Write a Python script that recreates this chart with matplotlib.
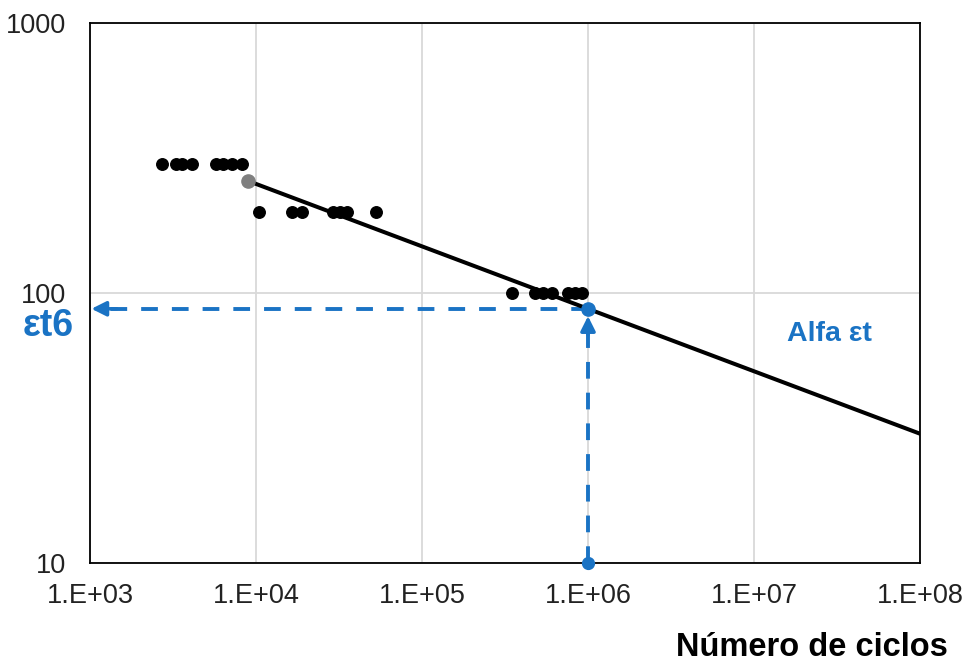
import matplotlib
matplotlib.use("Agg")
import matplotlib.pyplot as plt
from matplotlib.ticker import FixedLocator, FixedFormatter, NullLocator

plt.rcParams['font.family'] = ['Liberation Sans', 'DejaVu Sans']

# test points (ciclos, deformacion)
ciclos_300 = [2710, 3300, 3570, 4100, 5740, 6350, 7150, 8200]
def_300 = [300] * len(ciclos_300)
ciclos_200 = [10470, 16400, 18840, 29000, 32100, 35500, 52800]
def_200 = [200] * len(ciclos_200)
ciclos_100 = [347000, 480000, 538000, 604000, 760000, 835000, 916000]
def_100 = [100] * len(ciclos_100)

# fatigue line
linea_x = [8900, 1e8]
linea_y = [260, 30.1]

n_ref = 1e6
eps_t6 = 87.3

x_ticks = [1e3, 1e4, 1e5, 1e6, 1e7, 1e8]
x_labels = ['1.E+03', '1.E+04', '1.E+05', '1.E+06', '1.E+07', '1.E+08']
y_ticks = [10, 100, 1000]
y_labels = ['10', '100', '1000']

blue = '#1a73c4'

fig = plt.figure(figsize=(9.66, 6.63), dpi=100)
ax = fig.add_axes([90 / 966, 1 - 563 / 663, 830 / 966, (563 - 22.7) / 663])
ax.set_xscale('log')
ax.set_yscale('log')
ax.set_xlim(1e3, 1e8)
ax.set_ylim(10, 1000)

ax.xaxis.set_major_locator(FixedLocator(x_ticks))
ax.xaxis.set_major_formatter(FixedFormatter(x_labels))
ax.yaxis.set_major_locator(FixedLocator(y_ticks))
ax.yaxis.set_major_formatter(FixedFormatter(y_labels))
ax.xaxis.set_minor_locator(NullLocator())
ax.yaxis.set_minor_locator(NullLocator())
ax.tick_params(axis='x', length=0, pad=14.5, labelsize=19.5, colors='#222222')
ax.tick_params(axis='y', length=0, pad=17, labelsize=19.5, colors='#222222')
ax.grid(True, color='#d9d9d9', lw=1.3)
ax.set_axisbelow(True)
for s in ax.spines.values():
    s.set_linewidth(1.3)
    s.set_color('black')

# data points
ax.plot(ciclos_300, def_300, 'o', color='black', ms=8.3, zorder=3)
ax.plot(ciclos_200, def_200, 'o', color='black', ms=8.3, zorder=3)
ax.plot(ciclos_100, def_100, 'o', color='black', ms=8.3, zorder=3)

# dashed guide lines
dash = (0, (4.3, 3.6))
ax.plot([n_ref, 1.3e3], [eps_t6, eps_t6], color=blue, lw=2.8, ls=dash,
        zorder=2, clip_on=False)
ax.plot([n_ref, n_ref], [10, 74], color=blue, lw=2.8, ls=dash, zorder=2,
        clip_on=False)
ax.annotate('', xy=(1.02e3, eps_t6), xytext=(1.45e3, eps_t6),
            arrowprops=dict(arrowstyle='-|>', color=blue, lw=2.5,
                            mutation_scale=22, shrinkA=0, shrinkB=0),
            zorder=4, annotation_clip=False)
ax.annotate('', xy=(n_ref, 82), xytext=(n_ref, 70),
            arrowprops=dict(arrowstyle='-|>', color=blue, lw=2.5,
                            mutation_scale=22, shrinkA=0, shrinkB=0),
            zorder=4)
ax.plot([n_ref], [10], 'o', color=blue, ms=8.5, zorder=5, clip_on=False)

# fatigue line
ax.plot(linea_x, linea_y, color='black', lw=2.9, zorder=4)
ax.plot([linea_x[0]], [linea_y[0]], 'o', color='#7f7f7f', ms=9.5, zorder=5)
ax.plot([n_ref], [eps_t6], 'o', color=blue, ms=9.5, zorder=5)

fig.text(48 / 966, 1 - 326 / 663, 'εt6', color=blue, fontsize=27,
         fontweight='bold', ha='center', va='center')
fig.text(829 / 966, 1 - 334 / 663, 'Alfa εt', color=blue, fontsize=20.5,
         fontweight='bold', ha='center', va='center')
fig.text(948 / 966, 1 - 647 / 663, 'Número de ciclos', color='black',
         fontsize=23.5, fontweight='bold', ha='right', va='center')

fig.savefig('out.png', dpi=100)
